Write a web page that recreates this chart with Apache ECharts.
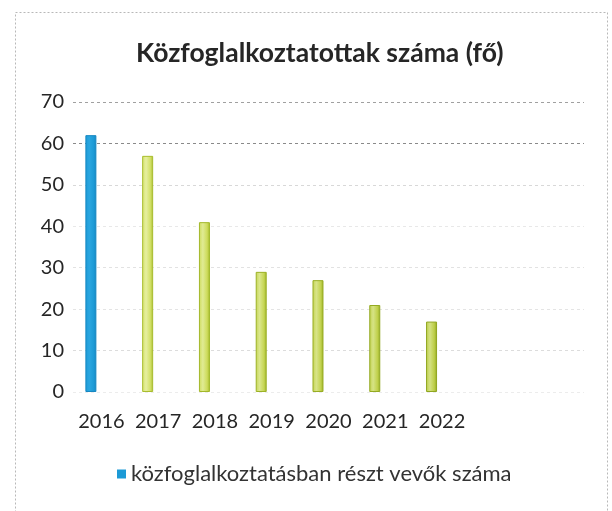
<!DOCTYPE html>
<html>
<head>
<meta charset="utf-8">
<script src="https://cdn.jsdelivr.net/npm/echarts@6/dist/echarts.min.js"></script>
<style>
  html, body { margin: 0; padding: 0; background: #fff; }
  #chart { width: 612px; height: 511px; }
</style>
</head>
<body>
<div id="chart"></div>
<script>
// Közfoglalkoztatottak száma évenként
const years = ['2016', '2017', '2018', '2019', '2020', '2021', '2022'];
const participants = [62, 57, 41, 29, 27, 21, 17];
const yTicks = [0, 10, 20, 30, 40, 50, 60, 70];
const seriesName = 'közfoglalkoztatásban részt vevők száma';

// fill colours per bar: [light, mid, dark edge]
const barFills = [
  ['#2aa6e0', '#1c9ad6', '#1687c2'],
  ['#e6efa0', '#d2e068', '#a9bd2e'],
  ['#e0eb94', '#cddb5c', '#a3b82a'],
  ['#dbe78c', '#c6d654', '#9cb226'],
  ['#d8e488', '#c3d350', '#98ae24'],
  ['#d6e385', '#c0d04c', '#94aa22'],
  ['#d4e182', '#bdce48', '#90a620']
];

function fillFor(c) {
  return new echarts.graphic.LinearGradient(0, 0, 1, 0, [
    { offset: 0, color: c[1] },
    { offset: 0.35, color: c[0] },
    { offset: 0.75, color: c[1] },
    { offset: 1, color: c[2] }
  ]);
}

const barData = participants.map((v, i) => ({
  value: v,
  itemStyle: {
    color: fillFor(barFills[i]),
    borderColor: barFills[i][2],
    borderWidth: 1
  }
}));

// empty second slot in each cluster keeps the bars left of the category centre
const emptySlot = years.map(() => null);

const chart = echarts.init(document.getElementById('chart'), null, { renderer: 'canvas' });

chart.setOption({
  animation: false,
  backgroundColor: '#fff',
  title: {
    text: 'Közfoglalkoztatottak száma (fő)',
    left: 131,
    top: 35,
    textStyle: {
      fontFamily: 'Lato',
      fontWeight: 'bold',
      fontSize: 26.5,
      color: '#262626'
    }
  },
  legend: {
    bottom: 21,
    left: 112,
    itemWidth: 9,
    itemHeight: 9,
    itemGap: 6,
    icon: 'rect',
    data: [{ name: seriesName, itemStyle: { color: '#1c9ad6' } }],
    textStyle: { fontFamily: 'Lato', fontSize: 22, color: '#333' }
  },
  grid: { left: 73, right: 28, top: 102, bottom: 119, containLabel: false },
  xAxis: {
    type: 'category',
    data: years,
    max: 8,
    axisLine: { show: false },
    axisTick: { show: false },
    axisLabel: {
      interval: 0,
      fontFamily: 'Lato',
      fontSize: 20,
      color: '#262626',
      margin: 20
    }
  },
  yAxis: {
    type: 'value',
    min: 0,
    max: 70,
    interval: 10,
    axisLine: { show: false },
    axisTick: { show: false },
    axisLabel: {
      fontFamily: 'Lato',
      fontSize: 20,
      color: '#262626',
      margin: 9,
      formatter: v => (yTicks.indexOf(v) >= 0 ? String(v) : '')
    },
    splitLine: {
      lineStyle: {
        type: [3, 3],
        color: ['#ececec', '#dcdcdc', '#e4e4e4', '#e2e2e2', '#e8e8e8', '#d8d8d8', '#8a8a8a', '#a0a0a0'],
        width: 1
      }
    }
  },
  series: [{
    name: seriesName,
    type: 'bar',
    barWidth: 11,
    barGap: '91%',
    itemStyle: { color: '#1c9ad6' },
    data: barData
  }, {
    name: 'slot',
    type: 'bar',
    barWidth: 11,
    data: emptySlot
  }],
  graphic: [{
    type: 'rect',
    silent: true,
    shape: { x: 15.5, y: 12.5, width: 592, height: 520 },
    style: { fill: 'none', stroke: '#b8b8b8', lineWidth: 1, lineDash: [2, 2] }
  }]
});
</script>
</body>
</html>
